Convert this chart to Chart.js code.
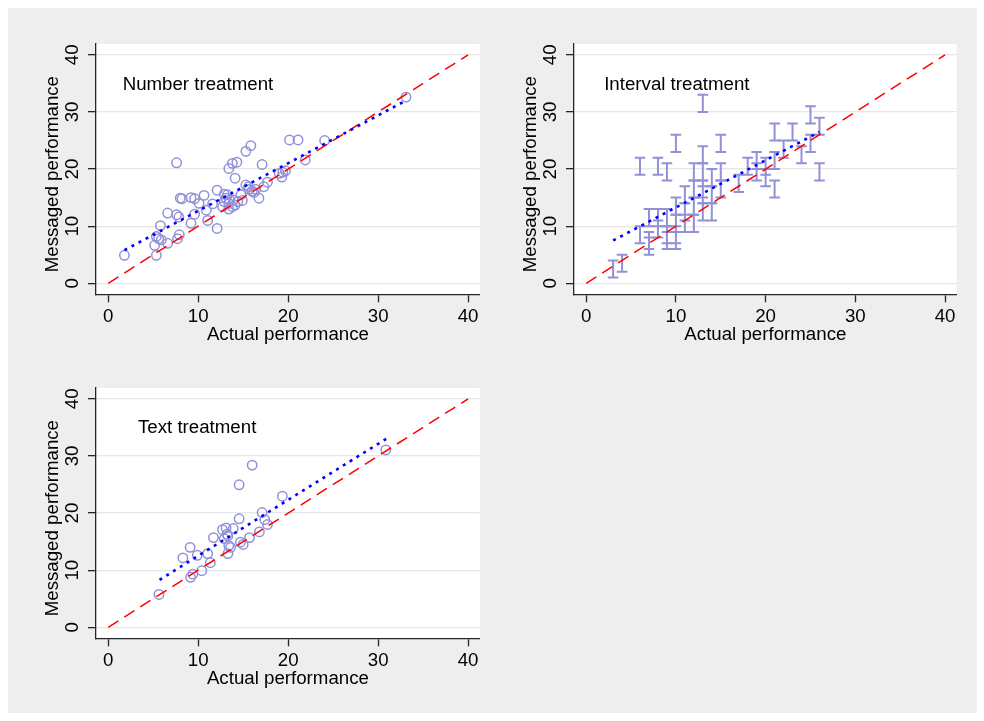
<!DOCTYPE html>
<html>
<head>
<meta charset="utf-8">
<script src="https://cdn.jsdelivr.net/npm/chart.js@4/dist/chart.umd.min.js"></script>
<style>
  html, body { margin: 0; padding: 0; background: #ffffff; }
  body { width: 984px; height: 721px; position: relative; overflow: hidden; }
  #frame { position: absolute; left: 8px; top: 8px; width: 969px; height: 705px; background: #eeeeee; }
  .panel { position: absolute; width: 478px; height: 343px; }
</style>
</head>
<body>
<div id="frame"></div>
<div class="panel" style="left:8px;top:8px"><canvas id="c1"></canvas></div>
<div class="panel" style="left:486px;top:8px"><canvas id="c2"></canvas></div>
<div class="panel" style="left:8px;top:352px"><canvas id="c3"></canvas></div>
<script>
// ---------- data ----------
const tickValues = [0, 10, 20, 30, 40];
const diagX = [0, 40];
const diagY = [0, 40];

// Number treatment
const numberActual = [1.8, 5.35, 5.16, 5.35, 5.6, 5.9, 5.8, 6.6, 6.6, 7.6, 7.6, 7.85, 7.7, 7.9, 8.0, 8.2, 9.2, 9.2, 9.6, 9.6,
  10.1, 10.65, 10.9, 11.05, 11.6, 12.1, 12.1, 12.9, 13.25, 13.1, 13.5, 13.9, 13.4, 12.9, 13.8, 14.1, 14.4, 14.75, 13.4, 13.4,
  13.8, 14.3, 14.1, 15.3, 15.3, 15.85, 15.65, 16.0, 16.4, 16.2, 16.75, 17.1, 17.3, 17.7, 19.0, 19.3, 19.4, 19.7, 20.15, 21.1,
  21.9, 24.05, 33.1, 14.9, 12.7, 15.6];
const numberMessaged = [4.9, 4.9, 6.65, 8.2, 7.8, 7.6, 10.1, 12.3, 7.0, 21.1, 12.0, 11.6, 7.8, 8.5, 14.9, 14.8, 15.0, 10.5, 14.8, 12.1,
  14.0, 15.4, 12.8, 11.0, 13.9, 16.3, 9.6, 15.6, 15.5, 14.9, 14.6, 14.6, 14.0, 14.3, 13.4, 13.7, 14.3, 15.5, 13.0, 20.1,
  21.0, 21.2, 18.4, 17.2, 23.1, 24.1, 16.45, 16.15, 16.45, 15.9, 14.9, 20.8, 16.9, 17.7, 19.25, 18.6, 19.45, 19.7, 25.1, 25.1,
  21.6, 25.0, 32.6, 14.5, 13.4, 16.9];
const numberFitX = [1.8, 33.1];
const numberFitY = [5.8, 32.0];

// Interval treatment (actual, lower and upper end of messaged interval)
const intervalActual = [3, 4, 6, 6, 7, 7, 7, 8, 8, 8, 9, 9, 9, 9, 10, 10, 10, 10, 10, 11, 11, 11, 12, 12, 12, 12,
  13, 13, 13, 13, 13, 13, 14, 14, 14, 15, 15, 15, 17, 18, 19, 19, 20, 20, 21, 21, 21, 22, 23, 24, 25, 25, 26, 26];
const intervalLow = [1, 2, 19, 7, 10, 6, 5, 19, 10, 8, 18, 10, 7, 6, 23, 12, 9, 6, 7, 14, 11, 9, 18, 15, 12, 9,
  30, 21, 18, 15, 14, 11, 17, 14, 11, 23, 18, 15, 16, 19, 20, 18, 19, 17, 25, 15, 20, 22, 25, 21, 28, 23, 26, 18];
const intervalHigh = [4, 5, 22, 10, 13, 9, 8, 22, 13, 11, 21, 13, 10, 9, 26, 15, 12, 9, 10, 17, 14, 12, 21, 18, 15, 12,
  33, 24, 21, 18, 17, 14, 20, 17, 14, 26, 21, 18, 19, 22, 23, 21, 22, 20, 28, 18, 23, 25, 28, 24, 31, 26, 29, 21];
const intervalFitX = [3.0, 26.0];
const intervalFitY = [7.5, 26.5];

// Text treatment
const textActual = [5.64, 8.3, 9.1, 9.15, 9.4, 9.9, 10.4, 11.05, 11.35, 11.7, 12.7, 13.1, 12.9, 13.3, 13.3, 13.4, 13.6, 13.9,
  14.55, 14.55, 14.7, 15.0, 15.7, 16.0, 16.8, 17.1, 17.4, 17.7, 19.35, 30.85, 13.2];
const textMessaged = [5.75, 12.15, 14.0, 8.75, 9.3, 12.6, 9.9, 12.9, 11.3, 15.7, 17.1, 17.4, 15.5, 16.0, 12.9, 14.3, 14.0, 17.3,
  19.0, 24.95, 14.9, 14.5, 15.7, 28.4, 16.7, 20.1, 18.85, 18.0, 22.95, 31.05, 16.3];
const textFitX = [5.7, 31.1];
const textFitY = [8.3, 33.2];

// ---------- styling ----------
const FONT_FAMILY = '"Liberation Sans", Arial, Helvetica, sans-serif';
const FONT_SIZE = 18.7;
const MARK = 'rgb(145,145,215)';
const AXIS = '#262626';

function pairs(xs, ys) { return xs.map((x, i) => ({ x: x, y: ys[i] })); }

function barPoints(xs, lo, hi) {
  const out = [];
  xs.forEach((x, i) => {
    out.push({ x: x, y: lo[i] });
    out.push({ x: x, y: hi[i] });
    out.push({ x: x, y: null });
  });
  return out;
}

const deco = {
  id: 'deco',
  beforeDraw(chart) {
    const { ctx, chartArea: a } = chart;
    ctx.save();
    ctx.fillStyle = '#ffffff';
    ctx.fillRect(a.left, a.top, a.right - a.left, a.bottom - a.top);
    ctx.restore();
  },
  afterDraw(chart, args, opts) {
    const { ctx, scales } = chart;
    const x = scales.x, y = scales.y;
    ctx.save();
    ctx.fillStyle = '#000000';
    ctx.font = FONT_SIZE + 'px ' + FONT_FAMILY;
    ctx.textAlign = 'center';
    ctx.textBaseline = 'middle';
    tickValues.forEach(v => {
      ctx.save();
      ctx.translate(65, y.getPixelForValue(v));
      ctx.rotate(-Math.PI / 2);
      ctx.fillText(String(v), 0, 0);
      ctx.restore();
    });
    ctx.save();
    ctx.translate(45, (y.top + y.bottom) / 2 + 5);
    ctx.rotate(-Math.PI / 2);
    ctx.fillText('Messaged performance', 0, 0);
    ctx.restore();
    ctx.textAlign = 'left';
    ctx.fillText(opts.label, x.getPixelForValue(opts.lx), y.getPixelForValue(opts.ly));
    ctx.restore();
  }
};

function setTicks(scale) { scale.ticks = tickValues.map(v => ({ value: v })); }

function makeOptions(label, lx, ly) {
  return {
    responsive: true,
    maintainAspectRatio: false,
    animation: false,
    events: [],
    layout: { padding: { left: 0, top: 36, right: 4, bottom: 0 } },
    plugins: {
      legend: { display: false },
      tooltip: { enabled: false },
      deco: { label: label, lx: lx, ly: ly }
    },
    scales: {
      x: {
        type: 'linear',
        min: -1.36, max: 41.3,
        afterBuildTicks: setTicks,
        afterFit: s => { s.height = 56.7; },
        grid: { display: true, drawOnChartArea: false, drawTicks: true, tickLength: 8, tickColor: AXIS, tickWidth: 1.3 },
        border: { display: true, color: AXIS, width: 1.3 },
        ticks: { color: '#000', font: { family: FONT_FAMILY, size: FONT_SIZE }, padding: 3, maxRotation: 0, minRotation: 0, autoSkip: false },
        title: { display: true, text: 'Actual performance', color: '#000', font: { family: FONT_FAMILY, size: FONT_SIZE }, padding: { top: 0, bottom: 5 } }
      },
      y: {
        type: 'linear',
        min: -1.93, max: 41.9,
        afterBuildTicks: setTicks,
        afterFit: s => { s.width = 88; },
        grid: { display: true, drawOnChartArea: true, color: '#e6e6e6', lineWidth: 1.3, drawTicks: true, tickLength: 8, tickColor: AXIS, tickWidth: 1.3 },
        border: { display: true, color: AXIS, width: 1.3 },
        ticks: { display: false }
      }
    }
  };
}

function lineSets(fitX, fitY) {
  return [
    {
      data: pairs(diagX, diagY), showLine: true, pointRadius: 0, borderColor: 'rgb(255,0,0)',
      borderWidth: 1.5, borderDash: [12, 7], fill: false, order: 2
    },
    {
      data: pairs(fitX, fitY), showLine: true, pointRadius: 0, borderColor: 'rgb(0,0,255)',
      borderWidth: 2.6, borderDash: [3, 5], fill: false, order: 1
    }
  ];
}

function scatterSet(xs, ys) {
  return {
    data: pairs(xs, ys), showLine: false, pointStyle: 'circle', pointRadius: 4.7,
    pointBackgroundColor: 'rgba(0,0,0,0)', pointBorderColor: MARK, pointBorderWidth: 1.5, order: 3
  };
}

new Chart(document.getElementById('c1'), {
  type: 'scatter',
  data: { datasets: [scatterSet(numberActual, numberMessaged)].concat(lineSets(numberFitX, numberFitY)) },
  options: makeOptions('Number treatment', 1.6, 34.7),
  plugins: [deco]
});

new Chart(document.getElementById('c2'), {
  type: 'scatter',
  data: {
    datasets: [{
      data: barPoints(intervalActual, intervalLow, intervalHigh), showLine: true, spanGaps: false,
      borderColor: MARK, borderWidth: 2, pointStyle: 'line', pointRadius: 5.3,
      pointBorderColor: MARK, pointBorderWidth: 2, pointBackgroundColor: MARK, order: 3
    }].concat(lineSets(intervalFitX, intervalFitY))
  },
  options: makeOptions('Interval treatment', 2.0, 34.7),
  plugins: [deco]
});

new Chart(document.getElementById('c3'), {
  type: 'scatter',
  data: { datasets: [scatterSet(textActual, textMessaged)].concat(lineSets(textFitX, textFitY)) },
  options: makeOptions('Text treatment', 3.3, 34.9),
  plugins: [deco]
});
</script>
</body>
</html>
